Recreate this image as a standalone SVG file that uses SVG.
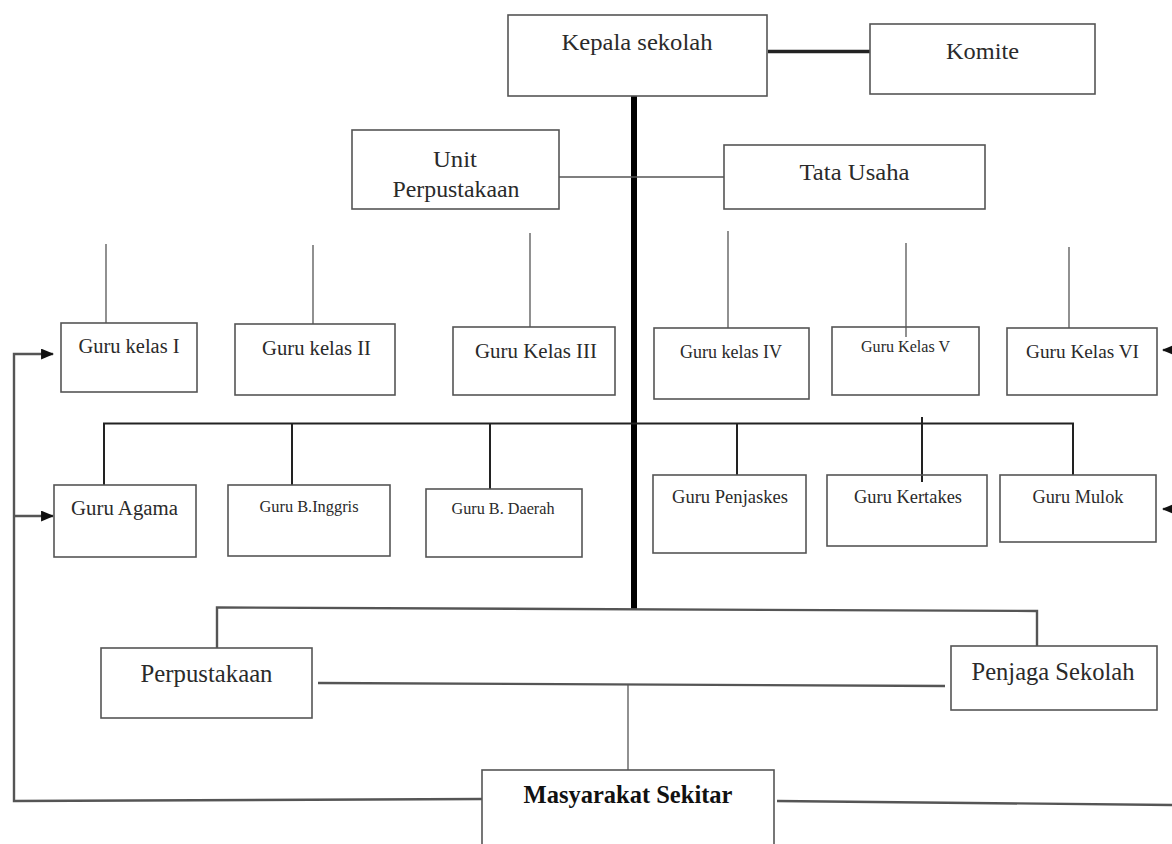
<svg xmlns="http://www.w3.org/2000/svg" width="1172" height="844" viewBox="0 0 1172 844">
<style>
.box{fill:none;stroke:#555;stroke-width:1.6}
.t{font-family:"Liberation Serif","Times New Roman",serif;fill:#2a2a2a}
.b{font-weight:bold;fill:#111}
.thin{stroke:#555;stroke-width:1.3;fill:none}
.mid{stroke:#222;stroke-width:2;fill:none}
.thick{stroke:#000;stroke-width:6;fill:none}
.dbl{stroke:#555;stroke-width:2.4;fill:none}
</style>
<defs>
<marker id="ah" viewBox="0 0 12 10" refX="11" refY="5" markerWidth="13" markerHeight="11" markerUnits="userSpaceOnUse" orient="auto">
<path d="M0,0 L12,5 L0,10 Z" fill="#111"/>
</marker>
</defs>
<rect width="1172" height="844" fill="#fff"/>
<g id="connectors">
<line class="thick" x1="634" y1="96" x2="634" y2="610"/>
<line x1="768" y1="51.5" x2="870" y2="51.5" stroke="#222" stroke-width="3.5"/>
<line class="thin" x1="559" y1="177" x2="724" y2="177"/>
<line class="thin" x1="106" y1="244" x2="106" y2="323"/>
<line class="thin" x1="313" y1="245" x2="313" y2="324"/>
<line class="thin" x1="530" y1="233" x2="530" y2="327"/>
<line class="thin" x1="728" y1="231" x2="728" y2="328"/>
<line class="thin" x1="906" y1="243" x2="906" y2="337"/>
<line class="thin" x1="1069" y1="247" x2="1069" y2="328"/>
<polyline class="mid" points="104,485 104,423.5 1073,423.5 1073,475"/>
<line class="mid" x1="292" y1="423.5" x2="292" y2="485"/>
<line class="mid" x1="490" y1="423.5" x2="490" y2="489"/>
<line class="mid" x1="737" y1="423.5" x2="737" y2="475"/>
<line class="mid" x1="922" y1="417" x2="922" y2="482"/>
<polyline class="dbl" points="217,648 217,607.5 1037,611 1037,646"/>
<line class="dbl" x1="318" y1="683" x2="945" y2="686"/>
<line class="thin" x1="628" y1="684" x2="628" y2="770"/>
<polyline class="dbl" points="482,799 14,801 14,354 53,354" marker-end="url(#ah)"/>
<line class="dbl" x1="14" y1="516" x2="53" y2="516" marker-end="url(#ah)"/>
<line class="dbl" x1="777" y1="801" x2="1172" y2="805"/>
<line class="dbl" x1="1180" y1="350" x2="1163" y2="350" marker-end="url(#ah)"/>
<line class="dbl" x1="1180" y1="509" x2="1163" y2="509" marker-end="url(#ah)"/>
</g>
<g id="kepala"><rect class="box" x="508" y="15" width="259" height="81"/><text class="t" x="637" y="50" font-size="24" text-anchor="middle" textLength="151" lengthAdjust="spacingAndGlyphs">Kepala sekolah</text></g>
<g id="komite"><rect class="box" x="870" y="24" width="225" height="70"/><text class="t" x="982.5" y="59" font-size="24" text-anchor="middle" textLength="73" lengthAdjust="spacingAndGlyphs">Komite</text></g>
<g id="unit"><rect class="box" x="352" y="130" width="207" height="79"/><text class="t" x="455" y="167" font-size="24" text-anchor="middle" textLength="44" lengthAdjust="spacingAndGlyphs">Unit</text><text class="t" x="456" y="197" font-size="24" text-anchor="middle" textLength="127" lengthAdjust="spacingAndGlyphs">Perpustakaan</text></g>
<g id="tata"><rect class="box" x="724" y="145" width="261" height="64"/><text class="t" x="854.5" y="180" font-size="24" text-anchor="middle" textLength="110" lengthAdjust="spacingAndGlyphs">Tata Usaha</text></g>
<g id="kelas1"><rect class="box" x="61" y="323" width="136" height="69"/><text class="t" x="129" y="353" font-size="20" text-anchor="middle" textLength="101" lengthAdjust="spacingAndGlyphs">Guru kelas I</text></g>
<g id="kelas2"><rect class="box" x="235" y="324" width="160" height="71"/><text class="t" x="316.5" y="355" font-size="20" text-anchor="middle" textLength="109" lengthAdjust="spacingAndGlyphs">Guru kelas II</text></g>
<g id="kelas3"><rect class="box" x="453" y="327" width="162" height="68"/><text class="t" x="536" y="358" font-size="21" text-anchor="middle" textLength="122" lengthAdjust="spacingAndGlyphs">Guru Kelas III</text></g>
<g id="kelas4"><rect class="box" x="654" y="328" width="155" height="71"/><text class="t" x="731" y="358" font-size="18" text-anchor="middle" textLength="102" lengthAdjust="spacingAndGlyphs">Guru kelas IV</text></g>
<g id="kelas5"><rect class="box" x="832" y="327" width="147" height="68"/><text class="t" x="905.5" y="352" font-size="16" text-anchor="middle" textLength="89" lengthAdjust="spacingAndGlyphs">Guru Kelas V</text></g>
<g id="kelas6"><rect class="box" x="1007" y="328" width="150" height="67"/><text class="t" x="1082.5" y="358" font-size="19" text-anchor="middle" textLength="113" lengthAdjust="spacingAndGlyphs">Guru Kelas VI</text></g>
<g id="agama"><rect class="box" x="54" y="485" width="142" height="72"/><text class="t" x="124.5" y="515" font-size="20.5" text-anchor="middle" textLength="107" lengthAdjust="spacingAndGlyphs">Guru Agama</text></g>
<g id="inggris"><rect class="box" x="228" y="485" width="162" height="71"/><text class="t" x="309" y="512" font-size="16.5" text-anchor="middle" textLength="99" lengthAdjust="spacingAndGlyphs">Guru B.Inggris</text></g>
<g id="daerah"><rect class="box" x="426" y="489" width="156" height="68"/><text class="t" x="503" y="514" font-size="16.5" text-anchor="middle" textLength="103" lengthAdjust="spacingAndGlyphs">Guru B. Daerah</text></g>
<g id="penjaskes"><rect class="box" x="653" y="475" width="153" height="78"/><text class="t" x="730" y="503" font-size="18.5" text-anchor="middle" textLength="116" lengthAdjust="spacingAndGlyphs">Guru Penjaskes</text></g>
<g id="kertakes"><rect class="box" x="827" y="475" width="160" height="71"/><text class="t" x="908" y="503" font-size="18.5" text-anchor="middle" textLength="108" lengthAdjust="spacingAndGlyphs">Guru Kertakes</text></g>
<g id="mulok"><rect class="box" x="1000" y="475" width="156" height="67"/><text class="t" x="1078" y="503" font-size="18.5" text-anchor="middle" textLength="91" lengthAdjust="spacingAndGlyphs">Guru Mulok</text></g>
<g id="perpustakaan"><rect class="box" x="101" y="648" width="211" height="70"/><text class="t" x="206.5" y="682" font-size="25" text-anchor="middle" textLength="132" lengthAdjust="spacingAndGlyphs">Perpustakaan</text></g>
<g id="penjaga"><rect class="box" x="951" y="646" width="206" height="64"/><text class="t" x="1053" y="680" font-size="24.5" text-anchor="middle" textLength="163" lengthAdjust="spacingAndGlyphs">Penjaga Sekolah</text></g>
<g id="masyarakat"><rect class="box" x="482" y="770" width="292" height="90"/><text class="t b" x="628" y="803" font-size="24.5" text-anchor="middle" textLength="209" lengthAdjust="spacingAndGlyphs">Masyarakat Sekitar</text></g>
</svg>
